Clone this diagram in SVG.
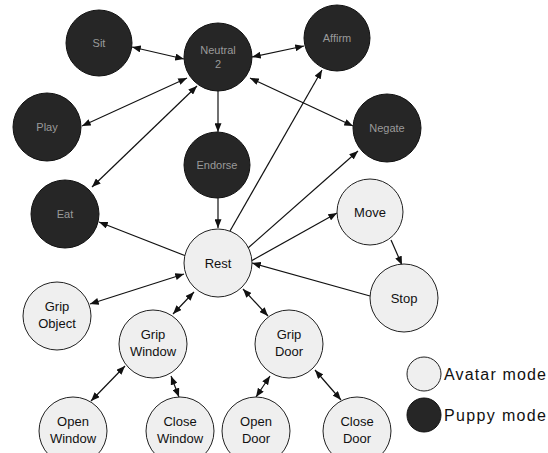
<svg xmlns="http://www.w3.org/2000/svg" width="548" height="453" viewBox="0 0 548 453">
<style>
.lt{fill:#efefef;stroke:#222;stroke-width:1}
.dk{fill:#262626;stroke:#111;stroke-width:1}
.tl{font-family:"Liberation Sans",Arial,sans-serif;font-size:13px;fill:#111;text-anchor:middle}
.td{font-family:"Liberation Sans",Arial,sans-serif;font-size:11px;fill:#9a9a9a;text-anchor:middle}
.lg{font-family:"Liberation Sans",Arial,sans-serif;font-size:16px;fill:#111}
.e{stroke:#111;stroke-width:1.2;fill:none}
</style>
<defs>
<marker id="ah" viewBox="0 0 10 8" refX="10" refY="4" markerWidth="9" markerHeight="7" markerUnits="userSpaceOnUse" orient="auto-start-reverse">
<path d="M0,0 L10,4 L0,8 Z" fill="#111"/>
</marker>
</defs>
<g id="connectors">
<line class="e" x1="132" y1="47" x2="184" y2="59" marker-start="url(#ah)" marker-end="url(#ah)"/>
<line class="e" x1="252" y1="57" x2="304" y2="46" marker-start="url(#ah)" marker-end="url(#ah)"/>
<line class="e" x1="82" y1="126" x2="187" y2="78" marker-start="url(#ah)" marker-end="url(#ah)"/>
<line class="e" x1="250" y1="78" x2="353" y2="126" marker-start="url(#ah)" marker-end="url(#ah)"/>
<line class="e" x1="218" y1="91" x2="218" y2="132" marker-end="url(#ah)"/>
<line class="e" x1="92" y1="187" x2="197" y2="86" marker-start="url(#ah)" marker-end="url(#ah)"/>
<line class="e" x1="218" y1="198" x2="218" y2="228" marker-end="url(#ah)"/>
<line class="e" x1="230" y1="231" x2="322" y2="70" marker-end="url(#ah)"/>
<line class="e" x1="248" y1="248" x2="358" y2="151" marker-end="url(#ah)"/>
<line class="e" x1="251" y1="261" x2="337" y2="213" marker-end="url(#ah)"/>
<line class="e" x1="186" y1="256" x2="99" y2="222" marker-end="url(#ah)"/>
<line class="e" x1="370" y1="296" x2="252" y2="263" marker-end="url(#ah)"/>
<line class="e" x1="391" y1="240" x2="402" y2="265" marker-end="url(#ah)"/>
<line class="e" x1="184" y1="274" x2="90" y2="304" marker-start="url(#ah)" marker-end="url(#ah)"/>
<line class="e" x1="194" y1="292" x2="173" y2="314" marker-start="url(#ah)" marker-end="url(#ah)"/>
<line class="e" x1="243" y1="289" x2="268" y2="316" marker-start="url(#ah)" marker-end="url(#ah)"/>
<line class="e" x1="125" y1="366" x2="91" y2="401" marker-start="url(#ah)" marker-end="url(#ah)"/>
<line class="e" x1="171" y1="376" x2="179" y2="397" marker-start="url(#ah)" marker-end="url(#ah)"/>
<line class="e" x1="270" y1="376" x2="256" y2="397" marker-start="url(#ah)" marker-end="url(#ah)"/>
<line class="e" x1="315" y1="370" x2="341" y2="400" marker-start="url(#ah)" marker-end="url(#ah)"/>
</g>
<g id="sit"><circle class="dk" cx="99" cy="43" r="33"/><text class="td" x="99" y="47">Sit</text></g>
<g id="neutral"><circle class="dk" cx="218" cy="57" r="34"/><text class="td" x="218" y="54">Neutral</text><text class="td" x="218" y="68">2</text></g>
<g id="affirm"><circle class="dk" cx="337" cy="38" r="33"/><text class="td" x="337" y="42">Affirm</text></g>
<g id="play"><circle class="dk" cx="47" cy="127" r="34"/><text class="td" x="47" y="131">Play</text></g>
<g id="endorse"><circle class="dk" cx="217" cy="165" r="33"/><text class="td" x="217" y="169">Endorse</text></g>
<g id="negate"><circle class="dk" cx="387" cy="128" r="34"/><text class="td" x="387" y="132">Negate</text></g>
<g id="eat"><circle class="dk" cx="65" cy="214" r="34"/><text class="td" x="65" y="218">Eat</text></g>
<g id="rest"><circle class="lt" cx="218" cy="263" r="34"/><text class="tl" x="218" y="268">Rest</text></g>
<g id="move"><circle class="lt" cx="370" cy="212" r="33"/><text class="tl" x="370" y="217">Move</text></g>
<g id="stop"><circle class="lt" cx="404" cy="298" r="34"/><text class="tl" x="404" y="303">Stop</text></g>
<g id="grip-object"><circle class="lt" cx="57" cy="316" r="34"/><text class="tl" x="57" y="311">Grip</text><text class="tl" x="57" y="328">Object</text></g>
<g id="grip-window"><circle class="lt" cx="153" cy="344" r="34"/><text class="tl" x="153" y="339">Grip</text><text class="tl" x="153" y="356">Window</text></g>
<g id="grip-door"><circle class="lt" cx="289" cy="344" r="34"/><text class="tl" x="289" y="339">Grip</text><text class="tl" x="289" y="356">Door</text></g>
<g id="open-window"><circle class="lt" cx="73" cy="431" r="34"/><text class="tl" x="73" y="426">Open</text><text class="tl" x="73" y="443">Window</text></g>
<g id="close-window"><circle class="lt" cx="180" cy="431" r="34"/><text class="tl" x="180" y="426">Close</text><text class="tl" x="180" y="443">Window</text></g>
<g id="open-door"><circle class="lt" cx="256" cy="431" r="34"/><text class="tl" x="256" y="426">Open</text><text class="tl" x="256" y="443">Door</text></g>
<g id="close-door"><circle class="lt" cx="357" cy="431" r="34"/><text class="tl" x="357" y="426">Close</text><text class="tl" x="357" y="443">Door</text></g>
<g id="legend">
<circle class="lt" cx="424" cy="374" r="17"/><text class="lg" x="444" y="380" textLength="102">Avatar mode</text>
<circle class="dk" cx="424" cy="415" r="17"/><text class="lg" x="444" y="421" textLength="102">Puppy mode</text>
</g>
</svg>
